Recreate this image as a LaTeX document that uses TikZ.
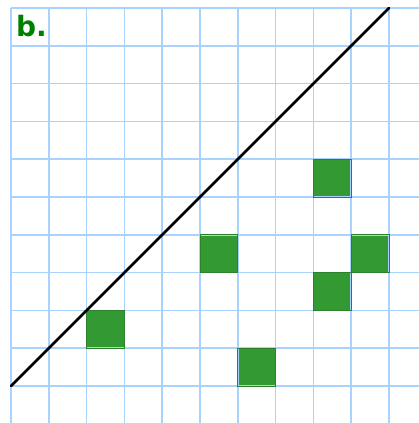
\documentclass[tikz,border=0pt]{standalone}
\usepackage{fontspec}
\setmainfont{DejaVu Sans}
\definecolor{gridblue}{HTML}{A8D3FF}
\definecolor{cellgreen}{HTML}{339933}
\definecolor{celledge}{HTML}{2B8A2B}
\definecolor{labelgreen}{HTML}{008000}
\tikzset{
  gridline/.style={gridblue, line width=1.6pt},
  cell/.style={fill=cellgreen, draw=celledge, line width=0.8pt},
  diag/.style={black, line width=2.6pt, line cap=round},
}
\begin{document}
\begin{tikzpicture}[x=1pt,y=1pt]
\useasboundingbox (0,0) rectangle (419,423);
\fill[white] (0,0) rectangle (419,423);
\def\ox{11}\def\oy{37}\def\cs{37.8}
% green cells
\foreach \i/\j in {2/1, 6/0, 5/3, 8/2, 9/3, 8/5} {
  \fill[cellgreen] ({\ox+\i*\cs},{\oy+\j*\cs}) rectangle ({\ox+(\i+1)*\cs},{\oy+(\j+1)*\cs});
}
% grid
\foreach \k in {0,...,10} {
  \draw[gridline] ({\ox+\k*\cs},0) -- ({\ox+\k*\cs},{\oy+10*\cs});
  \draw[gridline] (\ox,{\oy+\k*\cs}) -- (419,{\oy+\k*\cs});
}
\foreach \i/\j in {2/1, 6/0, 5/3, 8/2, 9/3, 8/5} {
  \draw[cellgreen!85!black, line width=0.8pt] ({\ox+\i*\cs},{\oy+\j*\cs}) rectangle ({\ox+(\i+1)*\cs},{\oy+(\j+1)*\cs});
}
\coordinate (start) at (\ox,\oy);
\coordinate (end) at ({\ox+10*\cs},{\oy+10*\cs});
\draw[diag] (start) -- (end);
\node[anchor=base west, inner sep=0pt, text=labelgreen, font=\bfseries\fontsize{28}{30}\selectfont] (lbl) at (16,386) {b.};
\end{tikzpicture}
\end{document}
